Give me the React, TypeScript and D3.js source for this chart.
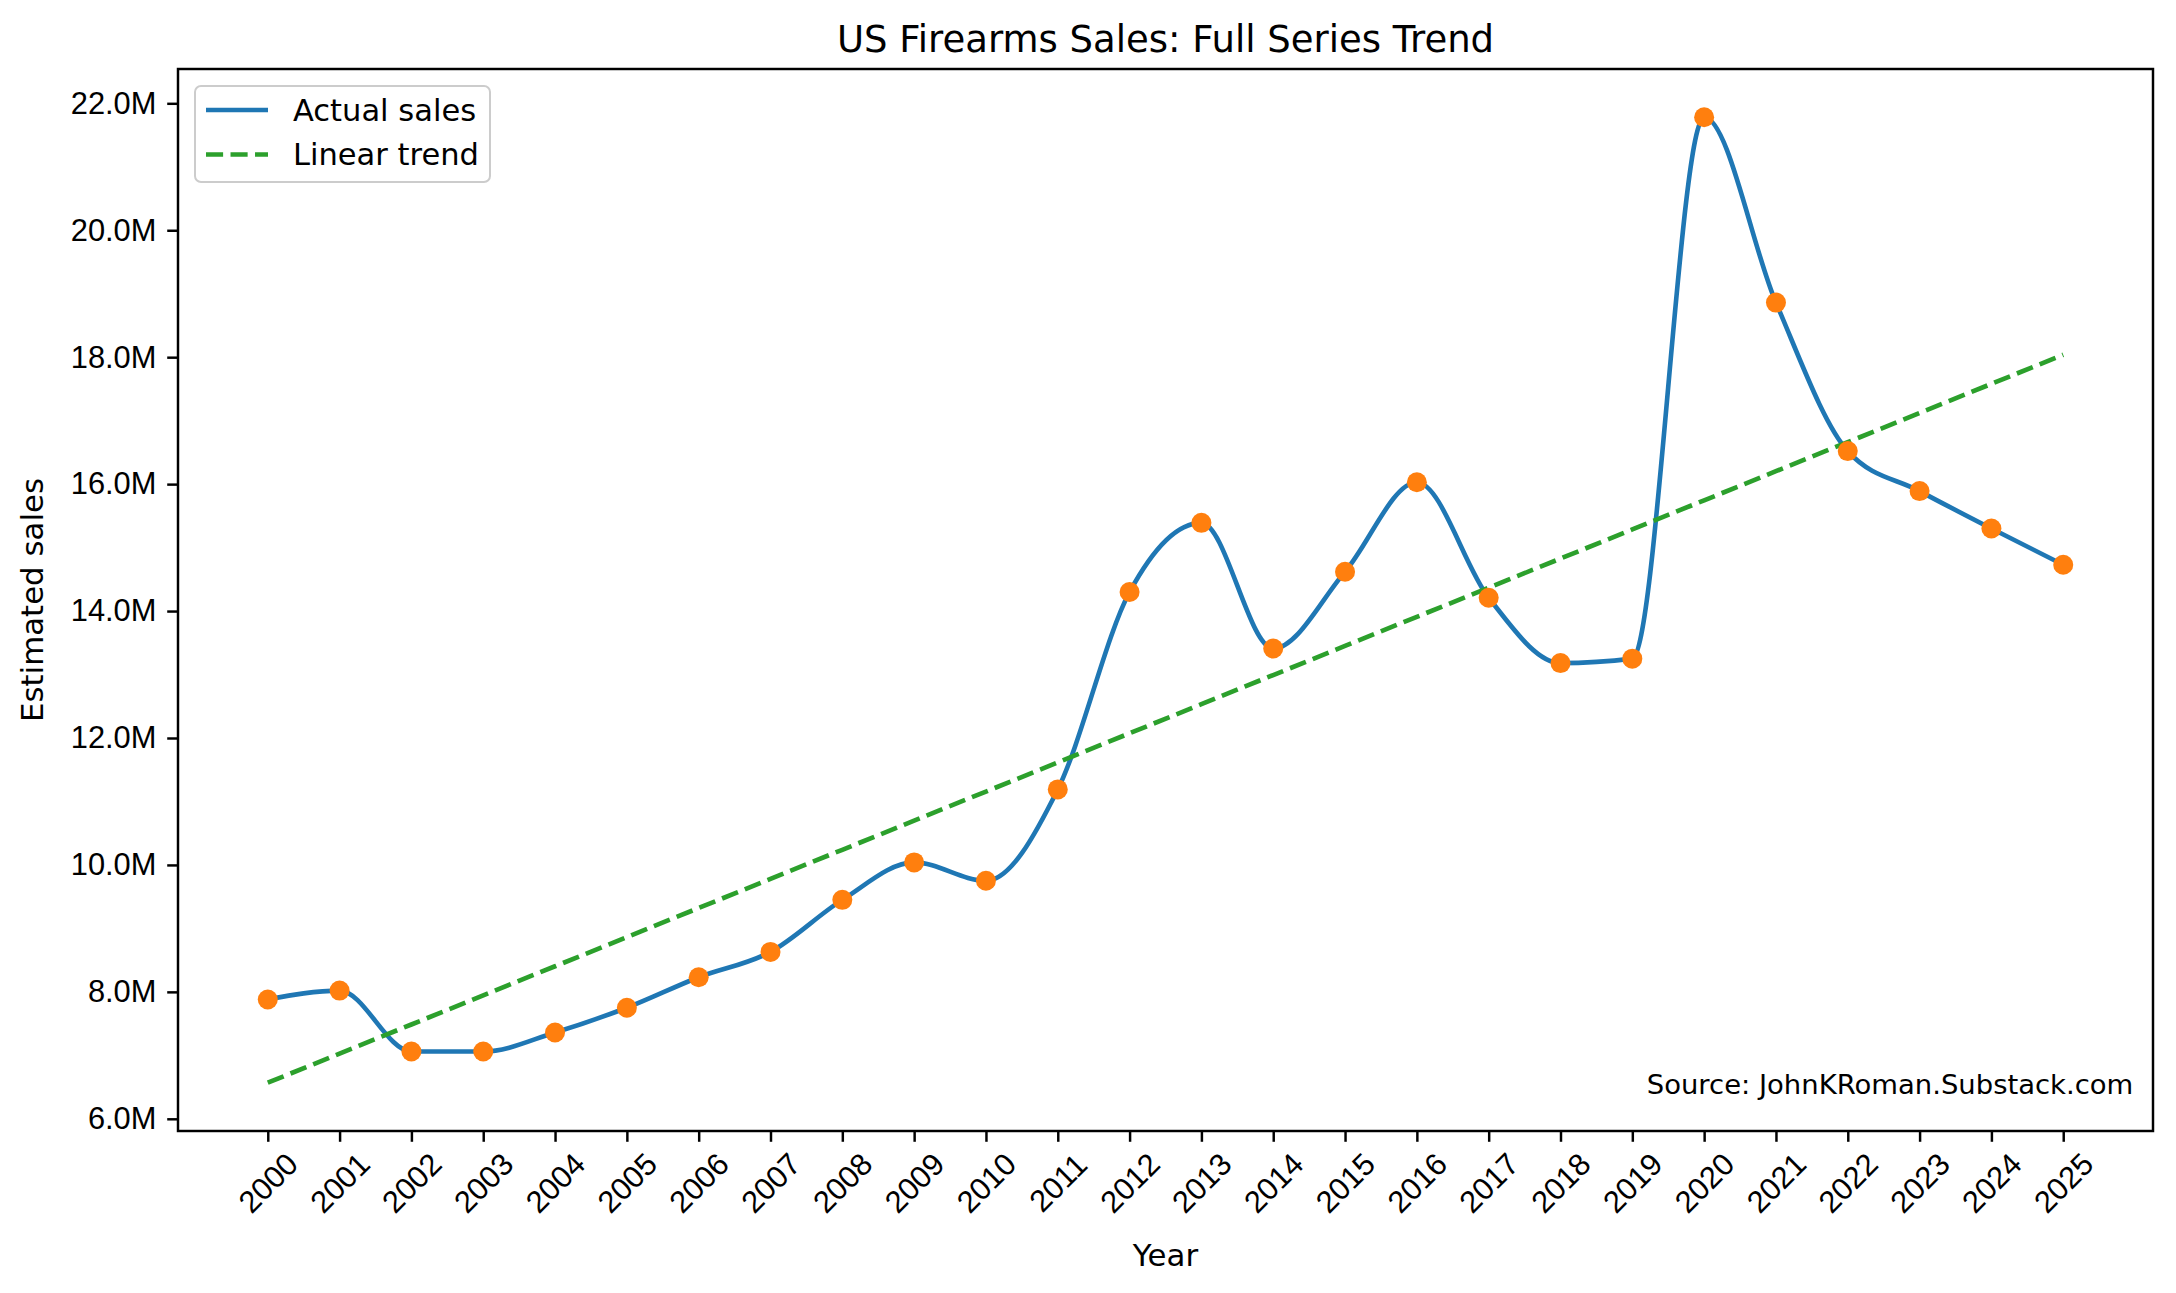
import React, { useEffect, useRef } from 'react';
import * as d3 from 'd3';

// Yearly estimated sales, in millions
const years: number[] = [
  2000, 2001, 2002, 2003, 2004, 2005, 2006, 2007, 2008, 2009, 2010, 2011, 2012,
  2013, 2014, 2015, 2016, 2017, 2018, 2019, 2020, 2021, 2022, 2023, 2024, 2025,
];
const sales: number[] = [
  7.88, 8.02, 7.06, 7.06, 7.36, 7.75, 8.23, 8.63, 9.45, 10.04, 9.75, 11.19, 14.3,
  15.39, 13.41, 14.62, 16.03, 14.21, 13.18, 13.25, 21.78, 18.86, 16.52, 15.89, 15.3, 14.73,
];
const yTicks: number[] = [6, 8, 10, 12, 14, 16, 18, 20, 22];

const title = 'US Firearms Sales: Full Series Trend';
const sourceNote = 'Source: JohnKRoman.Substack.com';

const W = 2176;
const H = 1293;
const FONT = '"DejaVu Sans", sans-serif';
const PT = 222 / 72; // px per point
const LW = 1.5 * PT;
const DASH = `${5.55 * PT} ${2.4 * PT}`;
const TICK = 3.5 * PT;

const App: React.FC = () => {
  const svgRef = useRef<SVGSVGElement>(null);

  useEffect(() => {
    if (!svgRef.current) return;

    const margin = { top: 69, right: 23, bottom: 162, left: 178 };
    const svg = d3.select(svgRef.current);
    svg.selectAll('*').remove();

    // least squares fit over the sales
    const mx = d3.mean(years)!;
    const my = d3.mean(sales)!;
    const slope =
      d3.sum(years, (x, i) => (x - mx) * (sales[i] - my)) /
      d3.sum(years, x => (x - mx) ** 2);
    const trend = years.map(x => my + slope * (x - mx));

    // matplotlib-like 5% margins
    const x0 = d3.min(years)!, x1 = d3.max(years)!;
    const xPad = (x1 - x0) * 0.05;
    const lo = Math.min(d3.min(sales)!, d3.min(trend)!);
    const hi = Math.max(d3.max(sales)!, d3.max(trend)!);
    const yPad = (hi - lo) * 0.05;

    const x = d3.scaleLinear()
      .domain([x0 - xPad, x1 + xPad])
      .range([margin.left, W - margin.right]);
    const y = d3.scaleLinear()
      .domain([lo - yPad, hi + yPad])
      .range([H - margin.bottom, margin.top]);

    const g = svg.append('g').attr('font-family', FONT);

    // lines
    const line = d3.line<number>()
      .x((_, i) => x(years[i]))
      .y(d => y(d))
      .curve(d3.curveMonotoneX);

    g.append('path')
      .datum(sales)
      .attr('d', line)
      .attr('fill', 'none')
      .attr('stroke', '#1f77b4')
      .attr('stroke-width', LW);

    g.append('path')
      .datum(trend)
      .attr('d', d3.line<number>().x((_, i) => x(years[i])).y(d => y(d)))
      .attr('fill', 'none')
      .attr('stroke', '#2ca02c')
      .attr('stroke-width', LW)
      .attr('stroke-dasharray', DASH);

    g.append('g')
      .attr('fill', '#ff7f0e')
      .selectAll('circle')
      .data(sales)
      .join('circle')
        .attr('cx', (_, i) => x(years[i]))
        .attr('cy', d => y(d))
        .attr('r', 10);

    // axes frame
    g.append('rect')
      .attr('x', margin.left)
      .attr('y', margin.top)
      .attr('width', W - margin.left - margin.right)
      .attr('height', H - margin.top - margin.bottom)
      .attr('fill', 'none')
      .attr('stroke', '#000')
      .attr('stroke-width', 0.8 * PT);

    const xAxis = g.append('g')
      .attr('transform', `translate(0,${H - margin.bottom})`)
      .call(d3.axisBottom(x).tickValues(years).tickFormat(d3.format('d')).tickSize(TICK).tickPadding(0));
    xAxis.select('.domain').remove();
    xAxis.selectAll('line').attr('stroke-width', 0.8 * PT);
    xAxis.selectAll('text')
      .attr('font-size', 10 * PT)
      .attr('fill', '#000')
      .attr('text-anchor', 'middle')
      .attr('dominant-baseline', 'central')
      .attr('dy', null)
      .attr('y', 0)
      .attr('transform', 'translate(0,52) rotate(-45)');

    const yAxis = g.append('g')
      .attr('transform', `translate(${margin.left},0)`)
      .call(d3.axisLeft(y).tickValues(yTicks).tickFormat(d => `${(+d).toFixed(1)}M`).tickSize(TICK).tickPadding(TICK));
    yAxis.select('.domain').remove();
    yAxis.selectAll('line').attr('stroke-width', 0.8 * PT);
    yAxis.selectAll('text').attr('font-size', 10 * PT).attr('fill', '#000');

    // titles
    g.append('text')
      .attr('x', (margin.left + W - margin.right) / 2)
      .attr('y', 52)
      .attr('text-anchor', 'middle')
      .attr('font-size', 12 * PT)
      .text(title);

    g.append('text')
      .attr('x', (margin.left + W - margin.right) / 2)
      .attr('y', 1266)
      .attr('text-anchor', 'middle')
      .attr('font-size', 10 * PT)
      .text('Year');

    g.append('text')
      .attr('transform', `translate(43,${(margin.top + H - margin.bottom) / 2}) rotate(-90)`)
      .attr('text-anchor', 'middle')
      .attr('font-size', 10 * PT)
      .text('Estimated sales');

    g.append('text')
      .attr('x', W - margin.right - 19.7)
      .attr('y', 1094)
      .attr('text-anchor', 'end')
      .attr('font-size', 8.9 * PT)
      .text(sourceNote);

    // legend
    const lg = g.append('g');
    lg.append('rect')
      .attr('x', 195).attr('y', 86)
      .attr('width', 295).attr('height', 96)
      .attr('rx', 6)
      .attr('fill', '#fff').attr('fill-opacity', 0.8)
      .attr('stroke', '#cccccc').attr('stroke-width', 2);
    const items = [
      { label: 'Actual sales', color: '#1f77b4', dash: null },
      { label: 'Linear trend', color: '#2ca02c', dash: DASH },
    ];
    items.forEach((it, i) => {
      const cy = 110 + i * 44.5;
      lg.append('line')
        .attr('x1', 206).attr('x2', 268)
        .attr('y1', cy).attr('y2', cy)
        .attr('stroke', it.color).attr('stroke-width', LW)
        .attr('stroke-dasharray', it.dash);
      lg.append('text')
        .attr('x', 293).attr('y', cy)
        .attr('dominant-baseline', 'central')
        .attr('font-size', 9.9 * PT)
        .text(it.label);
    });
  }, []);

  return (
    <svg
      ref={svgRef}
      width={W}
      height={H}
      style={{ position: 'absolute', left: 0, top: 0, background: '#fff' }}
    ></svg>
  );
};

export default App;
